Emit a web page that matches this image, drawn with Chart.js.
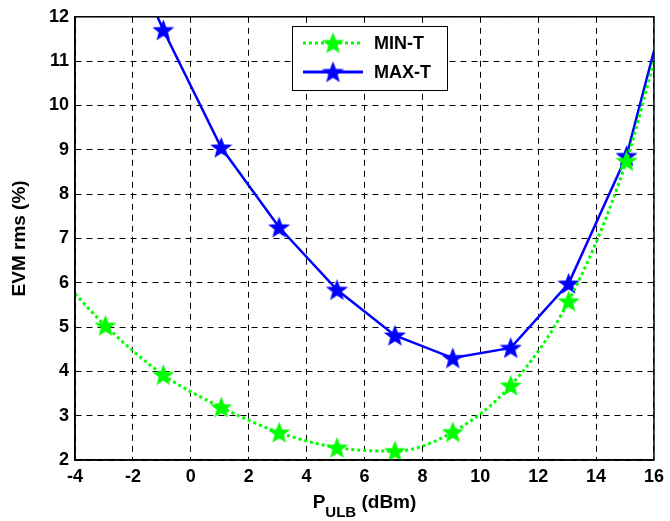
<!DOCTYPE html>
<html>
<head>
<meta charset="utf-8">
<script src="https://cdn.jsdelivr.net/npm/chart.js@4/dist/chart.umd.min.js"></script>
<style>
  html, body { margin: 0; padding: 0; background: #fff; }
  #wrap { width: 670px; height: 521px; }
</style>
</head>
<body>
<div id="wrap"><canvas id="chart" width="670" height="521"></canvas></div>
<script>
// Data (edge points are where the lines leave the axes)
var minX = [-4, -2.95, -0.95, 1.05, 3.05, 5.05, 7.05, 9.05, 11.05, 13.05, 15.05, 16];
var minY = [5.75, 5.03, 3.92, 3.19, 2.62, 2.28, 2.20, 2.63, 3.68, 5.58, 8.75, 11.0];
var maxX = [-1.15, -0.95, 1.05, 3.05, 5.05, 7.05, 9.05, 11.05, 13.05, 15.05, 16];
var maxY = [12.0, 11.70, 9.05, 7.25, 5.84, 4.81, 4.30, 4.53, 5.98, 8.86, 11.23];
var seriesNames = ['MIN-T', 'MAX-T'];
var xTicks = [-4, -2, 0, 2, 4, 6, 8, 10, 12, 14, 16];
var yTicks = [2, 3, 4, 5, 6, 7, 8, 9, 10, 11, 12];

var FONT = '"Liberation Sans", Arial, sans-serif';

// filled five-point star marker, like matlab's pentagram
function makeStar(color, r) {
    var c = document.createElement('canvas');
    var s = Math.ceil(r * 2 + 4);
    c.width = s; c.height = s;
    var g = c.getContext('2d');
    var cx = s / 2, cy = s / 2 + 0.8;
    g.beginPath();
    for (var i = 0; i < 10; i++) {
        var rad = (i % 2 === 0) ? r : r * 0.42;
        var a = -Math.PI / 2 + i * Math.PI / 5;
        var px = cx + rad * Math.cos(a), py = cy + rad * Math.sin(a);
        if (i === 0) g.moveTo(px, py); else g.lineTo(px, py);
    }
    g.closePath();
    g.fillStyle = color;
    g.fill();
    g.lineWidth = 1.5;
    g.lineJoin = 'miter';
    g.strokeStyle = color;
    g.stroke();
    return c;
}

var greenStar = makeStar('#00ff00', 9.5);
var blueStar = makeStar('#0000ff', 9.5);

function toPoints(xs, ys) {
    return xs.map(function (x, i) { return { x: x, y: ys[i] }; });
}

// no marker on the edge points
function markerRadius(xs) {
    return xs.map(function (x, i) { return (i === 0 || i === xs.length - 1) ? 0 : 5; });
}

// frame, axis titles and the legend box
var extras = {
    id: 'extras',
    afterDatasetsDraw: function (chart) {
        var ctx = chart.ctx, a = chart.chartArea;
        ctx.save();
        ctx.strokeStyle = '#000';
        ctx.lineWidth = 1.5;
        ctx.strokeRect(a.left, a.top, a.right - a.left, a.bottom - a.top);

        // legend
        var lx = 292, ly = 26, lw = 155, lh = 64;
        ctx.fillStyle = '#fff';
        ctx.fillRect(lx, ly, lw, lh);
        ctx.lineWidth = 1;
        ctx.strokeRect(lx + 0.5, ly + 0.5, lw, lh);
        var rows = [
            { y: 43, color: '#00ff00', dash: [3, 3], star: greenStar, text: seriesNames[0] },
            { y: 72, color: '#0000ff', dash: [], star: blueStar, text: seriesNames[1] }
        ];
        rows.forEach(function (r) {
            ctx.strokeStyle = r.color;
            ctx.lineWidth = 3;
            ctx.setLineDash(r.dash);
            ctx.beginPath();
            ctx.moveTo(303, r.y);
            ctx.lineTo(363, r.y);
            ctx.stroke();
            ctx.setLineDash([]);
            ctx.drawImage(r.star, 333 - r.star.width / 2, r.y - r.star.height / 2);
            ctx.fillStyle = '#000';
            ctx.font = 'bold 18px ' + FONT;
            ctx.textAlign = 'left';
            ctx.textBaseline = 'middle';
            ctx.fillText(r.text, 374, r.y + 1);
        });

        // y title
        ctx.fillStyle = '#000';
        ctx.save();
        ctx.translate(25, (a.top + a.bottom) / 2);
        ctx.rotate(-Math.PI / 2);
        ctx.font = 'bold 19px ' + FONT;
        ctx.textAlign = 'center';
        ctx.textBaseline = 'alphabetic';
        ctx.fillText('EVM rms (%)', 0, 0);
        ctx.restore();

        // x title with subscript
        ctx.textAlign = 'left';
        ctx.textBaseline = 'alphabetic';
        var big = 'bold 19px ' + FONT, small = 'bold 15px ' + FONT;
        ctx.font = big;
        var w1 = ctx.measureText('P').width;
        var w3 = ctx.measureText(' (dBm)').width;
        ctx.font = small;
        var w2 = ctx.measureText('ULB').width;
        var x0 = (a.left + a.right) / 2 - (w1 + w2 + w3) / 2;
        var base = 508;
        ctx.font = big;
        ctx.fillText('P', x0, base);
        ctx.font = small;
        ctx.fillText('ULB', x0 + w1, base + 9);
        ctx.font = big;
        ctx.fillText(' (dBm)', x0 + w1 + w2, base);
        ctx.restore();
    }
};

var ctx = document.getElementById('chart').getContext('2d');
var chart = new Chart(ctx, {
    type: 'scatter',
    data: {
        datasets: [{
            label: seriesNames[0],
            data: toPoints(minX, minY),
            showLine: true,
            borderColor: '#00ff00',
            borderWidth: 3,
            borderDash: [3, 3],
            cubicInterpolationMode: 'monotone',
            pointStyle: greenStar,
            pointRadius: markerRadius(minX),
            backgroundColor: '#00ff00'
        }, {
            label: seriesNames[1],
            data: toPoints(maxX, maxY),
            showLine: true,
            borderColor: '#0000ff',
            borderWidth: 2.5,
            tension: 0,
            pointStyle: blueStar,
            pointRadius: markerRadius(maxX),
            backgroundColor: '#0000ff'
        }]
    },
    options: {
        responsive: false,
        animation: false,
        layout: { padding: { left: 0, right: 9, top: 16, bottom: 0 } },
        plugins: {
            legend: { display: false },
            tooltip: { enabled: false }
        },
        scales: {
            x: {
                type: 'linear',
                min: -4,
                max: 16,
                afterBuildTicks: function (s) { s.ticks = xTicks.map(function (v) { return { value: v }; }); },
                afterFit: function (s) { s.height = 61; },
                ticks: {
                    color: '#000',
                    font: { family: FONT, size: 18, weight: 'bold' },
                    padding: 6,
                    maxRotation: 0,
                    autoSkip: false
                },
                grid: { color: '#000', lineWidth: 1, drawTicks: false },
                border: { display: true, color: '#000', width: 1.5, dash: [6, 5] }
            },
            y: {
                type: 'linear',
                min: 2,
                max: 12,
                afterBuildTicks: function (s) { s.ticks = yTicks.map(function (v) { return { value: v }; }); },
                afterFit: function (s) { s.width = 75; },
                ticks: {
                    color: '#000',
                    font: { family: FONT, size: 18, weight: 'bold' },
                    padding: 6,
                    autoSkip: false
                },
                grid: { color: '#000', lineWidth: 1, drawTicks: false },
                border: { display: true, color: '#000', width: 1.5, dash: [6, 5] }
            }
        }
    },
    plugins: [extras]
});
</script>
</body>
</html>
